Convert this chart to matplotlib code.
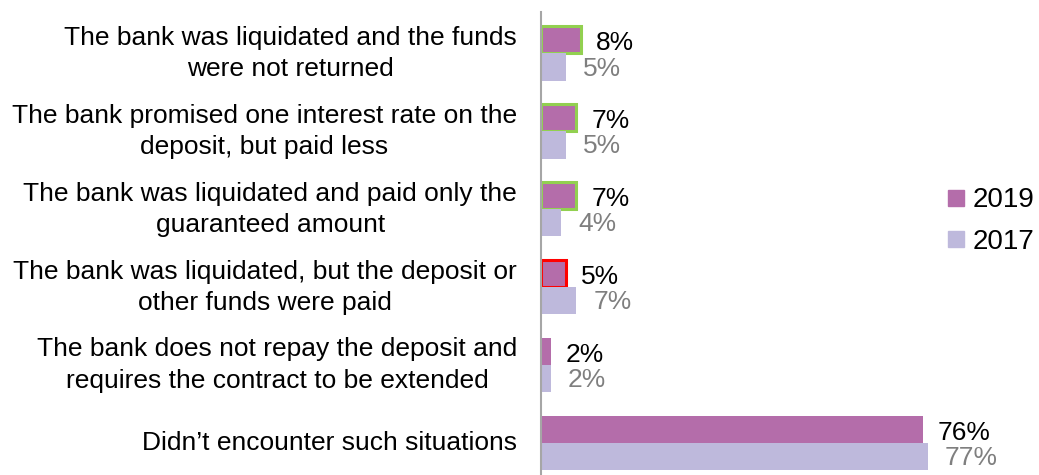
import matplotlib.pyplot as plt
from matplotlib.lines import Line2D

plt.rcParams['font.family'] = ['Liberation Sans', 'DejaVu Sans']

categories = ['The bank was liquidated and the funds\nwere not returned',
              'The bank promised one interest rate on the\ndeposit, but paid less',
              'The bank was liquidated and paid only the\nguaranteed amount',
              'The bank was liquidated, but the deposit or\nother funds were paid',
              'The bank does not repay the deposit and\nrequires the contract to be extended',
              'Didn\u2019t encounter such situations']
vals_2019 = [8, 7, 7, 5, 2, 76]
vals_2017 = [5, 5, 4, 7, 2, 77]
edge_2019 = ['#92D050', '#92D050', '#92D050', '#FF0000', 'none', 'none']

c2019 = '#B46DAA'
c2017 = '#BEB9DC'

fig = plt.figure(figsize=(10.39, 4.75), dpi=100)
ax = fig.add_axes([541 / 1039, 0, 402 / 1039, 463 / 475])
ax.set_xlim(0, 80)
ax.set_ylim(5.41, -0.53)

h = 0.35
px = 80 / 402  # data units per pixel in x
for i, (a, b) in enumerate(zip(vals_2019, vals_2017)):
    ax.barh(i - h / 2, a, height=h, color=c2019, edgecolor=edge_2019[i],
            linewidth=2.2 if edge_2019[i] != 'none' else 0)
    ax.barh(i + h / 2, b, height=h, color=c2017, linewidth=0)
    ax.text(a + 15 * px, i - h / 2 + 0.04, f'{a}%', va='center', ha='left', fontsize=19, color='black')
    ax.text(b + 17 * px, i + h / 2 + 0.02, f'{b}%', va='center', ha='left', fontsize=19, color='#7F7F7F')
    ax.text(-24 * px, i, categories[i], va='center', ha='right', multialignment='center',
            fontsize=19, linespacing=1.38)

for s in ['top', 'right', 'bottom']:
    ax.spines[s].set_visible(False)
ax.spines['left'].set_color('#A6A6A6')
ax.spines['left'].set_linewidth(1.5)
ax.set_xticks([])
ax.set_yticks([])

handles = [Line2D([], [], marker='s', linestyle='none', markersize=12, color=c2019),
           Line2D([], [], marker='s', linestyle='none', markersize=12, color=c2017)]
fig.legend(handles, ['2019', '2017'], loc='center left', bbox_to_anchor=(942 / 1039, 1 - 221 / 475),
           frameon=False, fontsize=20, handletextpad=0.1, labelspacing=0.55, handlelength=1.0,
           borderaxespad=0, borderpad=0)

fig.savefig('out.png', dpi=100)
